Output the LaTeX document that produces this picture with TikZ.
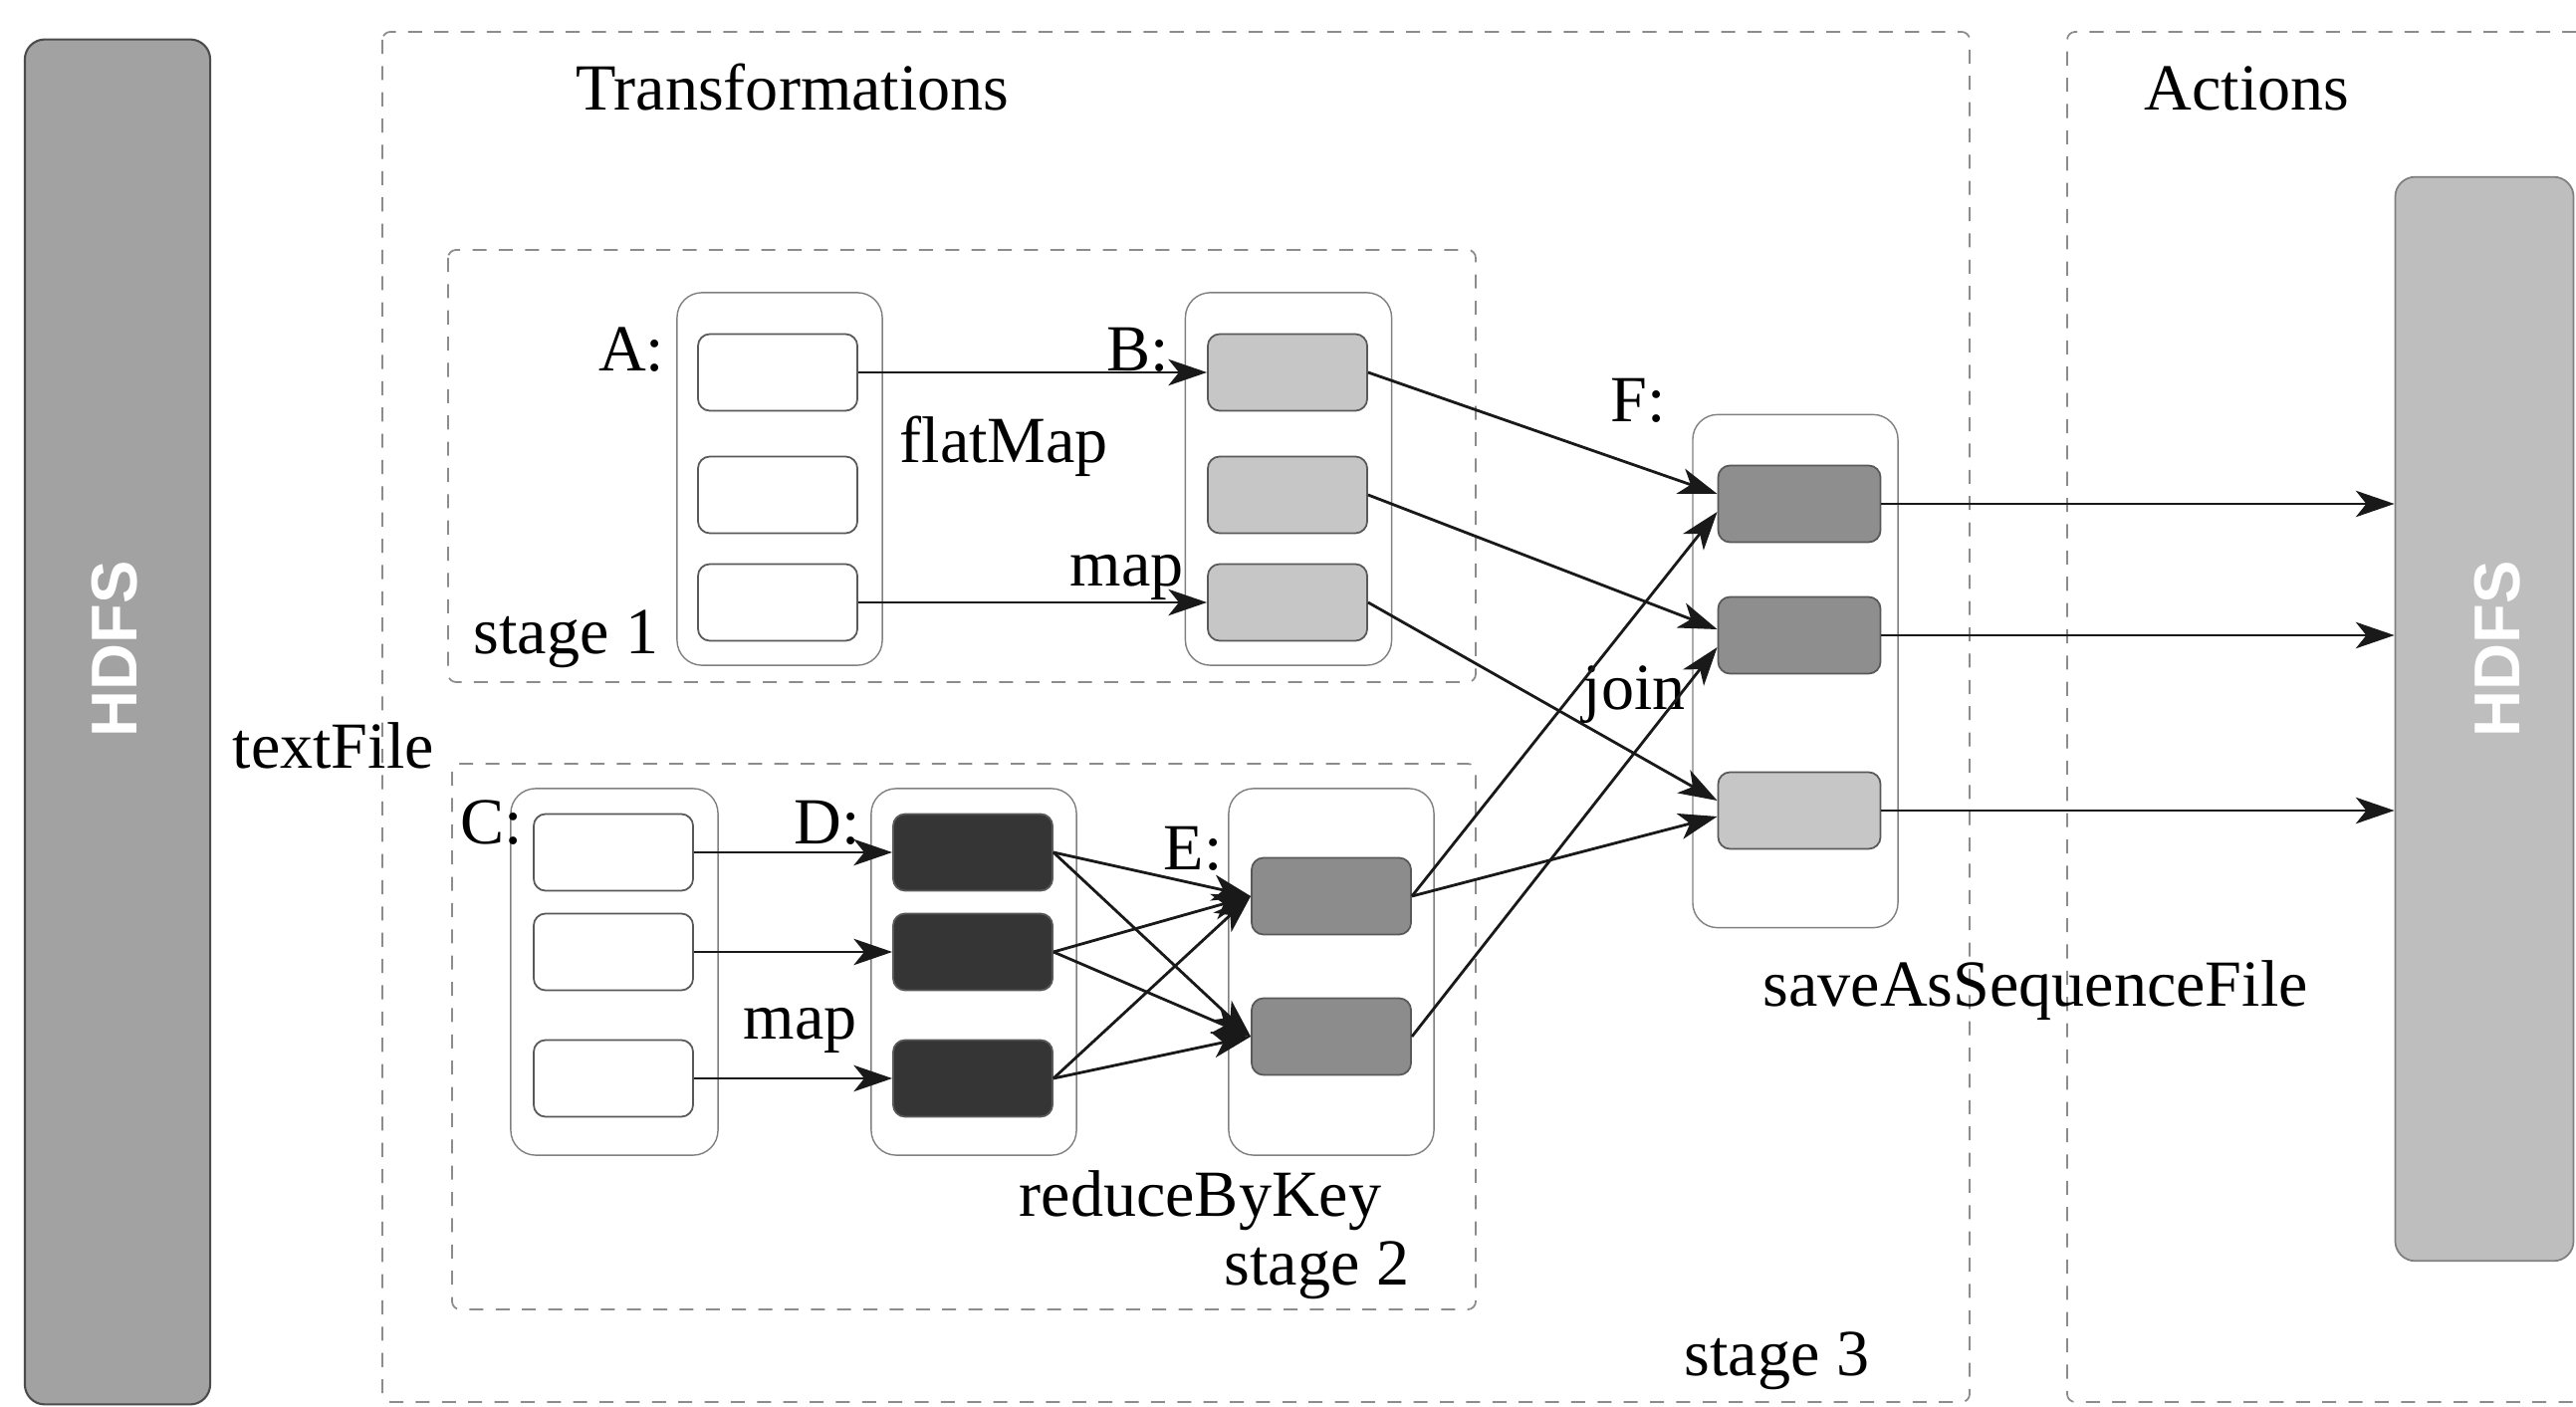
\documentclass[tikz,border=0pt]{standalone}
\usepackage{fontspec}
\setmainfont{Liberation Serif}
\newfontfamily\hdfsfont{Liberation Sans}
\usetikzlibrary{arrows.meta,calc}
\definecolor{bfill}{HTML}{C6C6C6}
\definecolor{ffill}{HTML}{8E8E8E}
\definecolor{dfill}{HTML}{353535}
\definecolor{efill}{HTML}{8C8C8C}
\definecolor{hdfsl}{HTML}{A2A2A2}
\definecolor{hdfsr}{HTML}{BEBEBE}
\begin{document}
\begin{tikzpicture}[x=0.01cm,y=-0.01cm,
  lbl/.style={anchor=base west,inner sep=0,font=\fontsize{18.8}{22}\selectfont},
  part/.style={draw=black!65,line width=0.5pt,rounded corners=0.12cm,minimum width=1.6cm,minimum height=0.77cm,inner sep=0},
  cont/.style={draw=black!50,line width=0.4pt,rounded corners=0.25cm,inner sep=0},
  stagebox/.style={draw=black!45,line width=0.5pt,dash pattern=on 4pt off 3.5pt,rounded corners=0.08cm},
  arr/.style={-{Stealth[length=11pt,width=7.5pt,inset=3pt]},line width=0.8pt,draw=black!90},
  hdfstext/.style={text=white,font=\hdfsfont\bfseries\fontsize{18.5}{20}\selectfont,rotate=90,inner sep=0},
]
\useasboundingbox (0,0) rectangle (2587,1413);

% dashed regions
\draw[stagebox] (384,32) rectangle (1978,1408);
\draw[stagebox] (2640,32) -- (2076,32) -- (2076,1408) -- (2640,1408);
\draw[stagebox] (450,251) rectangle (1482,685);
\draw[stagebox] (454,767) rectangle (1482,1315);

% HDFS stores
\node[draw=black!70,line width=0.6pt,fill=hdfsl,rounded corners=0.2cm,minimum width=1.86cm,minimum height=13.7cm,inner sep=0] (hdfsL) at (118,725) {};
\node[hdfstext] (hdfsLt) at (115,652) {HDFS};
\node[draw=black!50,line width=0.5pt,fill=hdfsr,rounded corners=0.2cm,minimum width=1.79cm,minimum height=10.88cm,inner sep=0] (hdfsR) at (2495,722) {};
\node[hdfstext] (hdfsRt) at (2508,652) {HDFS};

% containers
\node[cont,minimum width=2.06cm,minimum height=3.74cm] (A) at (783,481) {};
\node[cont,minimum width=2.07cm,minimum height=3.74cm] (B) at (1294,481) {};
\node[cont,minimum width=2.06cm,minimum height=5.15cm] (F) at (1803,674) {};
\node[cont,minimum width=2.08cm,minimum height=3.68cm] (C) at (617,976) {};
\node[cont,minimum width=2.06cm,minimum height=3.68cm] (D) at (978,976) {};
\node[cont,minimum width=2.06cm,minimum height=3.68cm] (E) at (1337,976) {};

% partitions
\node[part,fill=white] (A1) at (781,374) {};
\node[part,fill=white] (A2) at (781,497) {};
\node[part,fill=white] (A3) at (781,605) {};
\node[part,fill=bfill] (B1) at (1293,374) {};
\node[part,fill=bfill] (B2) at (1293,497) {};
\node[part,fill=bfill] (B3) at (1293,605) {};
\node[part,fill=ffill,minimum width=1.63cm] (F1) at (1807,506) {};
\node[part,fill=ffill,minimum width=1.63cm] (F2) at (1807,638) {};
\node[part,fill=bfill,minimum width=1.63cm] (F3) at (1807,814) {};
\node[part,fill=white] (C1) at (616,856) {};
\node[part,fill=white] (C2) at (616,956) {};
\node[part,fill=white] (C3) at (616,1083) {};
\node[part,fill=dfill] (D1) at (977,856) {};
\node[part,fill=dfill] (D2) at (977,956) {};
\node[part,fill=dfill] (D3) at (977,1083) {};
\node[part,fill=efill] (E1) at (1337,900) {};
\node[part,fill=efill] (E2) at (1337,1041) {};

% labels
\node[lbl] (tTrans) at (578,111) {Transformations};
\node[lbl] (tAct) at (2153,111) {Actions};
\node[lbl,anchor=base east] (tA) at (668,373) {A:};
\node[lbl,anchor=base east] (tB) at (1175,373) {B:};
\node[lbl] (tflat) at (903,465) {flatMap};
\node[lbl] (tmap1) at (1074,589) {map};
\node[lbl] (ts1) at (475,657) {stage 1};
\node[lbl] (tF) at (1617,424) {F:};
\node[lbl] (tjoin) at (1589,713) {join};
\node[lbl] (ttext) at (233,772) {textFile};
\node[lbl] (tC) at (462,848) {C:};
\node[lbl] (tD) at (797,848) {D:};
\node[lbl] (tE) at (1168,874) {E:};
\node[lbl] (tmap2) at (746,1044) {map};
\node[lbl] (tsave) at (1770,1011) {saveAsSequenceFile};
\node[lbl] (treduce) at (1023,1221) {reduceByKey};
\node[lbl] (ts2) at (1229,1290) {stage 2};
\node[lbl] (ts3) at (1691,1381) {stage 3};

% arrows stage 1
\draw[arr] (A1.east) -- (B1.west);
\draw[arr] (A3.east) -- (B3.west);
% arrows stage 2
\draw[arr] (C1.east) -- (D1.west);
\draw[arr] (C2.east) -- (D2.west);
\draw[arr] (C3.east) -- (D3.west);
\foreach \s in {D1,D2,D3}{
  \draw[arr] (\s.east) -- (E1.west);
  \draw[arr] (\s.east) -- (E2.west);
}
% join
\draw[arr] (B1.east) -- ($(F1.west)+(0,-10)$);
\draw[arr] (B2.east) -- ($(F2.west)+(0,-6)$);
\draw[arr] (B3.east) -- ($(F3.west)+(0,-10)$);
\draw[arr] (E1.east) -- ($(F1.west)+(0,8)$);
\draw[arr] (E1.east) -- ($(F3.west)+(0,6)$);
\draw[arr] (E2.east) -- ($(F2.west)+(0,12)$);
% save
\draw[arr] (F1.east) -- (F1.east -| hdfsR.west);
\draw[arr] (F2.east) -- (F2.east -| hdfsR.west);
\draw[arr] (F3.east) -- (F3.east -| hdfsR.west);
\end{tikzpicture}
\end{document}
